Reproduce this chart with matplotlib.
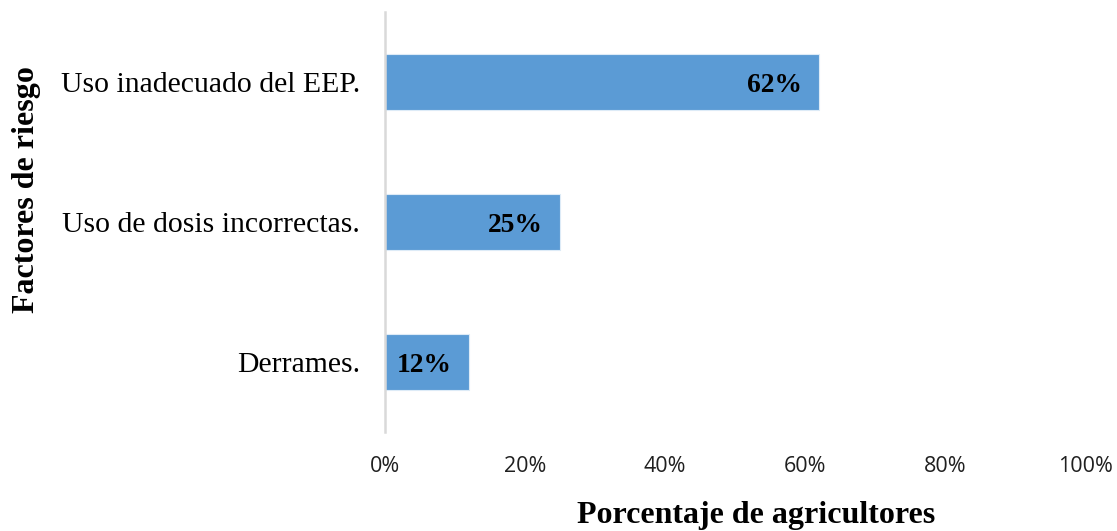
import matplotlib
matplotlib.use("Agg")
import matplotlib.pyplot as plt
from matplotlib.ticker import FuncFormatter

# Risk factors and share of farmers (%)
categories = ["Derrames.", "Uso de dosis incorrectas.", "Uso inadecuado del EEP."]
values = [12, 25, 62]
xticks = [0, 20, 40, 60, 80, 100]

W, H = 1117, 531
fig = plt.figure(figsize=(W / 100, H / 100), dpi=100)
ax = fig.add_axes([385 / W, (H - 432) / H, 700 / W, 420 / H])

bar_color = "#5B9BD5"
ypos = list(range(len(categories)))
bars = ax.barh(ypos, values, height=0.4, color=bar_color,
               edgecolor="#DDEBF7", linewidth=0.8)

ax.set_xlim(0, 100)
ax.set_ylim(-0.5, len(categories) - 0.5)
ax.set_yticks(ypos)
ax.set_yticklabels(categories, family="Liberation Serif", fontsize=21.4)
ax.set_xticks(xticks)
ax.xaxis.set_major_formatter(FuncFormatter(lambda v, p: f"{v:.0f}%"))
for lbl in ax.get_xticklabels():
    lbl.set_family("Open Sans")
    lbl.set_fontsize(15.5)
    lbl.set_color("#202020")

ax.tick_params(axis="both", length=0)
ax.tick_params(axis="y", pad=18)
ax.tick_params(axis="x", pad=17)

for side in ("top", "right", "bottom"):
    ax.spines[side].set_visible(False)
ax.spines["left"].set_color("#D9D9D9")
ax.spines["left"].set_linewidth(1.8)

# Value labels inside the bar ends
for b, v in zip(bars, values):
    ax.annotate(f"{v}%", xy=(v, b.get_y() + b.get_height() / 2),
                xytext=(-17, -4), textcoords="offset pixels",
                ha="right", va="center", family="Liberation Serif",
                fontweight="bold", fontsize=19.8, color="black")

fig.text(756 / W, 1 - 523 / H, "Porcentaje de agricultores", ha="center", va="baseline",
         family="Liberation Serif", fontweight="bold", fontsize=23)
fig.text(27 / W, 1 - 190 / H, "Factores de riesgo", ha="center", va="center",
         rotation=90, family="Liberation Serif", fontweight="bold", fontsize=23)

fig.savefig("out.png", dpi=100, facecolor="white")
